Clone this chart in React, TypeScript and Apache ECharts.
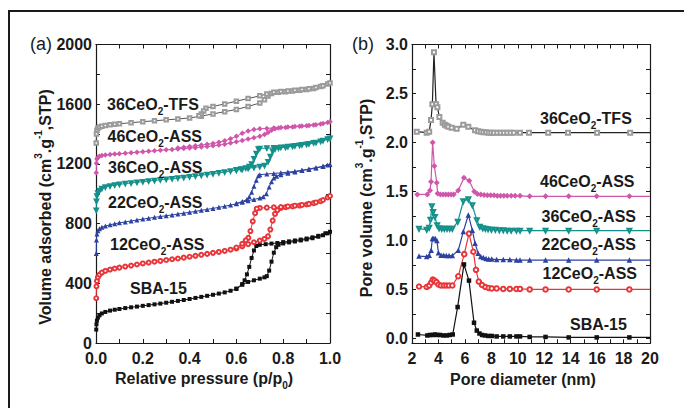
import { useEffect, useRef } from "react";
import * as echarts from "echarts";

type Pt = [number, number];

// ---------- (a) N2 isotherms: adsorption branch, then desorption branch ----------
const sbaAds: Pt[] = [
  [0.001, 90], [0.002, 125], [0.004, 150], [0.008, 170], [0.015, 185], [0.025, 198], [0.04, 208], [0.06, 217],
  [0.08, 223], [0.1, 228], [0.125, 234], [0.15, 239], [0.175, 244], [0.2, 249], [0.225, 254], [0.25, 259],
  [0.275, 264], [0.3, 270], [0.325, 276], [0.35, 282], [0.375, 288], [0.4, 295], [0.425, 302], [0.45, 309],
  [0.475, 316], [0.5, 323], [0.525, 331], [0.55, 339], [0.575, 350], [0.6, 362], [0.625, 390], [0.65, 409],
  [0.675, 420], [0.7, 431], [0.72, 440], [0.73, 448], [0.74, 485], [0.75, 545], [0.76, 605], [0.77, 642],
  [0.78, 658], [0.8, 667], [0.825, 674], [0.85, 680], [0.875, 687], [0.9, 694], [0.925, 702], [0.95, 712],
  [0.97, 722], [0.99, 735],
];
const sbaDes: Pt[] = [
  [1.0, 745], [0.98, 735], [0.95, 718], [0.925, 708], [0.9, 700], [0.875, 693], [0.85, 687], [0.825, 681],
  [0.8, 676], [0.775, 670], [0.75, 666], [0.725, 662], [0.7, 658], [0.685, 650], [0.675, 620], [0.665, 570],
  [0.655, 510], [0.645, 460], [0.635, 420], [0.625, 395], [0.6, 365],
];
const ce12Ads: Pt[] = [
  [0.001, 300], [0.002, 380], [0.004, 415], [0.008, 440], [0.015, 458], [0.025, 472], [0.04, 483], [0.06, 492],
  [0.08, 499], [0.1, 505], [0.125, 512], [0.15, 519], [0.175, 526], [0.2, 533], [0.225, 539], [0.25, 545],
  [0.275, 550], [0.3, 556], [0.325, 561], [0.35, 566], [0.375, 572], [0.4, 578], [0.425, 584], [0.45, 591],
  [0.475, 597], [0.5, 604], [0.525, 610], [0.55, 617], [0.575, 625], [0.6, 634], [0.625, 648], [0.65, 662],
  [0.675, 675], [0.7, 686], [0.72, 697], [0.735, 715], [0.745, 760], [0.755, 820], [0.765, 865], [0.775, 890],
  [0.79, 905], [0.81, 910], [0.84, 915], [0.87, 921], [0.9, 928], [0.93, 937], [0.96, 950], [0.99, 975],
];
const ce12Des: Pt[] = [
  [1.0, 985], [0.97, 958], [0.94, 942], [0.91, 932], [0.88, 925], [0.85, 920], [0.82, 915], [0.79, 911],
  [0.76, 909], [0.73, 907], [0.7, 905], [0.687, 900], [0.68, 870], [0.67, 815], [0.66, 750], [0.651, 705],
  [0.64, 688], [0.625, 665], [0.6, 640],
];
const ce22Ads: Pt[] = [
  [0.001, 600], [0.002, 690], [0.004, 730], [0.008, 752], [0.015, 766], [0.025, 775], [0.04, 784], [0.06, 792],
  [0.08, 799], [0.1, 805], [0.125, 811], [0.15, 818], [0.175, 824], [0.2, 830], [0.225, 836], [0.25, 842],
  [0.275, 847], [0.3, 853], [0.325, 858], [0.35, 864], [0.375, 870], [0.4, 876], [0.425, 882], [0.45, 889],
  [0.475, 895], [0.5, 902], [0.525, 909], [0.55, 916], [0.575, 924], [0.6, 933], [0.625, 943], [0.65, 953],
  [0.675, 962], [0.7, 971], [0.715, 980], [0.728, 1000], [0.74, 1045], [0.75, 1080], [0.76, 1105], [0.772, 1118],
  [0.79, 1128], [0.82, 1138], [0.85, 1146], [0.88, 1155], [0.91, 1163], [0.94, 1172], [0.97, 1182], [0.99, 1192],
];
const ce22Des: Pt[] = [
  [1.0, 1196], [0.97, 1185], [0.94, 1175], [0.91, 1166], [0.88, 1158], [0.85, 1150], [0.82, 1145], [0.79, 1140],
  [0.76, 1136], [0.73, 1132], [0.7, 1128], [0.694, 1120], [0.685, 1090], [0.675, 1050], [0.665, 1010], [0.655, 980],
  [0.645, 962], [0.625, 948], [0.6, 936],
];
const ce36Ads: Pt[] = [
  [0.001, 890], [0.002, 950], [0.004, 985], [0.008, 1005], [0.015, 1022], [0.025, 1035], [0.04, 1045], [0.06, 1052],
  [0.08, 1058], [0.1, 1063], [0.125, 1068], [0.15, 1072], [0.175, 1077], [0.2, 1081], [0.225, 1085], [0.25, 1089],
  [0.275, 1093], [0.3, 1097], [0.325, 1101], [0.35, 1105], [0.375, 1109], [0.4, 1114], [0.425, 1119], [0.45, 1124],
  [0.475, 1129], [0.5, 1134], [0.525, 1140], [0.55, 1146], [0.575, 1152], [0.6, 1158], [0.625, 1164], [0.65, 1170],
  [0.675, 1176], [0.7, 1182], [0.72, 1190], [0.735, 1215], [0.745, 1250], [0.755, 1285], [0.765, 1300], [0.78, 1306],
  [0.81, 1312], [0.84, 1318], [0.87, 1325], [0.9, 1332], [0.93, 1341], [0.96, 1352], [0.99, 1366],
];
const ce36Des: Pt[] = [
  [1.0, 1372], [0.97, 1356], [0.94, 1344], [0.91, 1335], [0.88, 1328], [0.85, 1322], [0.82, 1316], [0.79, 1311],
  [0.76, 1308], [0.73, 1306], [0.7, 1304], [0.694, 1300], [0.685, 1270], [0.675, 1235], [0.665, 1200], [0.655, 1182],
  [0.64, 1172], [0.62, 1166], [0.6, 1160],
];
const ce46Ads: Pt[] = [
  [0.001, 1140], [0.002, 1205], [0.004, 1232], [0.008, 1245], [0.015, 1252], [0.025, 1256], [0.04, 1260], [0.06, 1263],
  [0.08, 1266], [0.1, 1268], [0.125, 1271], [0.15, 1275], [0.175, 1278], [0.2, 1282], [0.225, 1285], [0.25, 1288],
  [0.275, 1291], [0.3, 1294], [0.325, 1297], [0.35, 1300], [0.375, 1303], [0.4, 1306], [0.425, 1309], [0.45, 1313],
  [0.475, 1317], [0.5, 1321], [0.525, 1326], [0.55, 1332], [0.575, 1340], [0.6, 1348], [0.625, 1357], [0.65, 1366],
  [0.675, 1376], [0.7, 1386], [0.72, 1397], [0.735, 1410], [0.75, 1425], [0.765, 1436], [0.78, 1440], [0.81, 1444],
  [0.84, 1448], [0.87, 1452], [0.9, 1456], [0.93, 1461], [0.96, 1468], [0.99, 1478],
];
const ce46Des: Pt[] = [
  [1.0, 1483], [0.97, 1470], [0.94, 1463], [0.91, 1458], [0.88, 1454], [0.85, 1450], [0.82, 1447], [0.79, 1444],
  [0.76, 1441], [0.73, 1438], [0.7, 1435], [0.675, 1430], [0.65, 1420], [0.625, 1405], [0.6, 1385], [0.575, 1368],
  [0.55, 1355], [0.525, 1345], [0.5, 1337], [0.475, 1331], [0.45, 1326], [0.425, 1321], [0.4, 1317], [0.375, 1312],
  [0.35, 1307],
];
const tfsAds: Pt[] = [
  [0.001, 1340], [0.002, 1400], [0.004, 1425], [0.008, 1440], [0.015, 1448], [0.025, 1453], [0.04, 1458], [0.06, 1462],
  [0.08, 1466], [0.1, 1469], [0.15, 1476], [0.2, 1483], [0.25, 1489], [0.3, 1495], [0.35, 1501], [0.4, 1508],
  [0.45, 1520], [0.5, 1535], [0.55, 1550], [0.6, 1565], [0.65, 1585], [0.7, 1608], [0.72, 1630], [0.735, 1655],
  [0.75, 1672], [0.78, 1680], [0.81, 1684], [0.84, 1688], [0.87, 1693], [0.9, 1698], [0.93, 1706], [0.96, 1718],
  [0.99, 1735],
];
const tfsDes: Pt[] = [
  [1.0, 1742], [0.97, 1724], [0.94, 1712], [0.91, 1704], [0.88, 1698], [0.85, 1693], [0.82, 1689], [0.79, 1685],
  [0.76, 1680], [0.73, 1668], [0.7, 1656], [0.65, 1638], [0.6, 1620], [0.55, 1602], [0.5, 1585], [0.47, 1573],
  [0.46, 1555], [0.45, 1535], [0.44, 1522],
];

// ---------- (b) pore size distributions (curves offset vertically) ----------
const sbaPsd: Pt[] = [
  [2.45, 0.04], [3.16, 0.03], [3.36, 0.035], [3.57, 0.035], [3.74, 0.04], [3.91, 0.035], [4.12, 0.035], [4.37, 0.03],
  [4.62, 0.03], [4.85, 0.035], [5.08, 0.04], [5.45, 0.32], [5.93, 0.755], [6.31, 0.59], [6.69, 0.16], [6.9, 0.08],
  [7.1, 0.05], [7.3, 0.035], [7.52, 0.03], [7.77, 0.025], [8.03, 0.025], [8.4, 0.02], [8.9, 0.02], [9.4, 0.02],
  [9.9, 0.02], [10.17, 0.02], [10.9, 0.015], [12.1, 0.015], [13.85, 0.01], [15.97, 0.01], [18.44, 0.01], [20, 0.01],
];
const ce12Psd: Pt[] = [
  [2.53, 0.53], [3.11, 0.525], [3.3, 0.54], [3.45, 0.57], [3.57, 0.6], [3.7, 0.59], [3.85, 0.575], [4.0, 0.55],
  [4.18, 0.54], [4.4, 0.54], [4.6, 0.54], [4.8, 0.54], [5.05, 0.54], [5.5, 0.635], [5.95, 0.86], [6.31, 1.07],
  [6.64, 0.885], [6.84, 0.7], [7.05, 0.58], [7.3, 0.545], [7.55, 0.525], [7.8, 0.515], [8.03, 0.51], [8.4, 0.51],
  [8.9, 0.505], [9.4, 0.505], [9.9, 0.505], [10.17, 0.505], [10.9, 0.5], [12.1, 0.5], [13.85, 0.5], [15.97, 0.5],
  [18.44, 0.5], [20, 0.5],
];
const ce22Psd: Pt[] = [
  [2.53, 0.84], [3.11, 0.835], [3.3, 0.85], [3.45, 0.9], [3.54, 1.02], [3.65, 1.02], [3.76, 1.02], [3.88, 1.0],
  [4.0, 0.875], [4.2, 0.85], [4.4, 0.85], [4.6, 0.845], [4.8, 0.845], [5.05, 0.845], [5.5, 0.9], [5.88, 1.09],
  [6.26, 1.26], [6.56, 1.105], [6.77, 0.97], [7.0, 0.87], [7.2, 0.835], [7.4, 0.825], [7.6, 0.815], [7.8, 0.81],
  [8.03, 0.81], [8.4, 0.805], [8.9, 0.805], [9.4, 0.805], [9.9, 0.8], [10.17, 0.8], [10.9, 0.8], [12.1, 0.8],
  [13.85, 0.8], [15.97, 0.8], [18.44, 0.8], [20, 0.8],
];
const ce36Psd: Pt[] = [
  [2.53, 1.12], [3.11, 1.11], [3.3, 1.13], [3.4, 1.21], [3.5, 1.35], [3.6, 1.29], [3.73, 1.24], [3.9, 1.156],
  [4.05, 1.125], [4.25, 1.12], [4.45, 1.12], [4.65, 1.12], [4.85, 1.12], [5.05, 1.12], [5.46, 1.19], [5.88, 1.4],
  [6.26, 1.42], [6.56, 1.36], [6.9, 1.207], [7.13, 1.14], [7.35, 1.125], [7.55, 1.12], [7.75, 1.115], [8.0, 1.11],
  [8.3, 1.11], [8.6, 1.105], [8.9, 1.105], [9.2, 1.1], [9.5, 1.1], [9.9, 1.1], [10.17, 1.1], [10.9, 1.1],
  [12.1, 1.1], [13.85, 1.1], [15.97, 1.1], [18.44, 1.1], [20, 1.1],
];
const ce46Psd: Pt[] = [
  [2.4, 1.47], [3.16, 1.47], [3.36, 1.51], [3.44, 1.6], [3.56, 2.0], [3.69, 1.76], [3.87, 1.59], [3.94, 1.48],
  [4.15, 1.47], [4.35, 1.47], [4.55, 1.47], [4.75, 1.47], [4.95, 1.47], [5.15, 1.47], [5.5, 1.51], [5.93, 1.64],
  [6.33, 1.61], [6.71, 1.5], [6.95, 1.475], [7.2, 1.47], [7.45, 1.465], [7.7, 1.46], [7.95, 1.46], [8.2, 1.46],
  [8.45, 1.455], [8.7, 1.455], [8.95, 1.455], [9.2, 1.455], [9.5, 1.455], [9.8, 1.455], [10.17, 1.455], [10.9, 1.45],
  [12.1, 1.45], [13.85, 1.45], [15.97, 1.45], [18.44, 1.45], [20, 1.45],
];
const tfsPsd: Pt[] = [
  [2.36, 2.11], [3.11, 2.1], [3.3, 2.11], [3.44, 2.23], [3.54, 2.39], [3.66, 2.92], [3.82, 2.39], [3.92, 2.36],
  [4.07, 2.26], [4.32, 2.2], [4.48, 2.18], [4.62, 2.17], [4.75, 2.16], [5.0, 2.15], [5.38, 2.14], [5.88, 2.18],
  [6.26, 2.16], [6.77, 2.125], [7.0, 2.115], [7.2, 2.11], [7.4, 2.105], [7.6, 2.105], [7.8, 2.1], [8.0, 2.1],
  [8.2, 2.1], [8.45, 2.1], [8.7, 2.1], [8.95, 2.1], [9.2, 2.1], [9.45, 2.1], [9.7, 2.1], [10.17, 2.1],
  [10.85, 2.1], [12.3, 2.1], [13.8, 2.1], [16.0, 2.1], [18.5, 2.1], [20, 2.1],
];

// ---------- axes ----------
const pressureTicks = [0, 0.2, 0.4, 0.6, 0.8, 1.0];
const adsorbedTicks = [0, 400, 800, 1200, 1600, 2000];
const diameterTicks = [2, 4, 6, 8, 10, 12, 14, 16, 18, 20];
const poreVolumeLabels = [0, 0.5, 1.0, 1.5, 2.0, 2.5, 3.0];
const poreVolumeTicks = [0, 0.25, 0.5, 0.75, 1.0, 1.25, 1.5, 1.75, 2.0, 2.25, 2.5, 2.75, 3.0];

const FONT = "'Liberation Sans', Arial, Helvetica, sans-serif";
const INK = "#1a1a1a";

const C_SBA = "#111111";
const C_12 = "#e8353a";
const C_22 = "#2d42a0";
const C_36 = "#13908a";
const C_46 = "#cf56aa";
const C_TFS_MARK = "#9b9b9b";
const C_TFS_LINE = "#555555";

const tailless = (pts: Pt[]) =>
  pts.map((p, i) => (i === pts.length - 1 && p[0] >= 20 ? { value: p, symbol: "none" } : p));

const axisLine = { show: true, onZero: false, lineStyle: { color: INK, width: 1.2 } };
const axisTick = { show: true, inside: true, length: 4, lineStyle: { color: INK, width: 1 } };
const minorTick = { show: true, splitNumber: 2, length: 4, lineStyle: { color: INK, width: 1 } };
const tickLabel = { fontFamily: FONT, fontWeight: "bold" as const, fontSize: 16, color: INK };

function richText(text: string, size: number, weight: string) {
  return {
    text,
    fontFamily: FONT,
    fontWeight: weight,
    fontSize: size,
    fill: INK,
    rich: {
      m: { fontFamily: FONT, fontWeight: weight, fontSize: size, fill: INK, lineHeight: 24 },
      s: { fontFamily: FONT, fontWeight: weight, fontSize: Math.round(size * 0.65), fill: INK, lineHeight: 9, verticalAlign: "bottom" },
      u: { fontFamily: FONT, fontWeight: weight, fontSize: Math.round(size * 0.65), fill: INK, lineHeight: 9, verticalAlign: "top" },
    },
  };
}

function label(x: number, y: number, text: string, rotation = 0, align = "left", size = 16, weight = "bold") {
  return {
    type: "text",
    x,
    y,
    rotation,
    z: 50,
    style: { ...richText(text, size, weight), align, verticalAlign: "middle" },
  };
}

function lineSeries(name: string, data: any[], xi: number, color: string, symbol: string, size: number, extra: any = {}) {
  return {
    name,
    type: "line",
    xAxisIndex: xi,
    yAxisIndex: xi,
    data,
    symbol,
    symbolSize: size,
    showSymbol: true,
    lineStyle: { color: extra.lineColor || color, width: extra.lineWidth || 1 },
    itemStyle: { color, borderWidth: extra.border || 1 },
    symbolRotate: extra.rotate || 0,
    emphasis: { disabled: true },
    z: extra.z || 3,
  };
}

export default function App() {
  const ref = useRef<HTMLDivElement>(null);

  useEffect(() => {
    if (!ref.current) return;
    const chart = echarts.init(ref.current, undefined, { renderer: "svg", width: 684, height: 408 });

    const leftGrid = { left: 96, top: 44.5, width: 234, height: 298.5 };
    const rightGrid = { left: 412, top: 44.5, width: 238, height: 298.8 };

    const option: any = {
      animation: false,
      backgroundColor: "#ffffff",
      grid: [
        { ...leftGrid, containLabel: false },
        { ...rightGrid, containLabel: false },
      ],
      xAxis: [
        {
          gridIndex: 0, type: "value", position: "bottom",
          min: pressureTicks[0], max: pressureTicks[pressureTicks.length - 1], interval: 0.2,
          axisLine, axisTick, minorTick, splitLine: { show: false },
          axisLabel: { ...tickLabel, margin: 7, formatter: (v: number) => v.toFixed(1) },
        },
        {
          gridIndex: 0, type: "value", position: "top",
          min: pressureTicks[0], max: pressureTicks[pressureTicks.length - 1], interval: 0.2,
          axisLine, axisTick, minorTick, splitLine: { show: false }, axisLabel: { show: false },
        },
        {
          gridIndex: 1, type: "value", position: "bottom",
          min: diameterTicks[0], max: diameterTicks[diameterTicks.length - 1], interval: 2,
          axisLine, axisTick, minorTick, splitLine: { show: false },
          axisLabel: { ...tickLabel, margin: 7, formatter: (v: number) => String(v) },
        },
        {
          gridIndex: 1, type: "value", position: "top",
          min: diameterTicks[0], max: diameterTicks[diameterTicks.length - 1], interval: 2,
          axisLine, axisTick, minorTick, splitLine: { show: false }, axisLabel: { show: false },
        },
      ],
      yAxis: [
        {
          gridIndex: 0, type: "value", position: "left",
          min: adsorbedTicks[0], max: adsorbedTicks[adsorbedTicks.length - 1], interval: 400,
          axisLine, axisTick, minorTick, splitLine: { show: false },
          axisLabel: { ...tickLabel, margin: 4, formatter: (v: number) => String(v) },
        },
        {
          gridIndex: 0, type: "value", position: "right",
          min: adsorbedTicks[0], max: adsorbedTicks[adsorbedTicks.length - 1], interval: 400,
          axisLine, axisTick, minorTick, splitLine: { show: false }, axisLabel: { show: false },
        },
        {
          gridIndex: 1, type: "value", position: "left",
          min: -0.05, max: poreVolumeLabels[poreVolumeLabels.length - 1],
          axisLine,
          axisTick: { ...axisTick, customValues: poreVolumeTicks },
          minorTick: { show: false }, splitLine: { show: false },
          axisLabel: { ...tickLabel, margin: 4, customValues: poreVolumeLabels, formatter: (v: number) => (v < 0 ? "" : v.toFixed(1)) },
        },
        {
          gridIndex: 1, type: "value", position: "right",
          min: -0.05, max: poreVolumeLabels[poreVolumeLabels.length - 1],
          axisLine,
          axisTick: { ...axisTick, customValues: poreVolumeTicks },
          minorTick: { show: false }, splitLine: { show: false }, axisLabel: { show: false },
        },
      ],
      series: [
        // isotherms
        lineSeries("SBA-15", [...sbaAds, ...sbaDes], 0, C_SBA, "rect", 4),
        lineSeries("12CeO2-ASS", [...ce12Ads, ...ce12Des], 0, C_12, "emptyCircle", 4),
        lineSeries("22CeO2-ASS", [...ce22Ads, ...ce22Des], 0, C_22, "triangle", 5),
        lineSeries("36CeO2-ASS", [...ce36Ads, ...ce36Des], 0, C_36, "emptyTriangle", 3.5, { rotate: 180, border: 0.8 }),
        lineSeries("46CeO2-ASS", [...ce46Ads, ...ce46Des], 0, C_46, "diamond", 5.5),
        lineSeries("36CeO2-TFS", [...tfsAds, ...tfsDes], 0, C_TFS_MARK, "emptyRect", 3.5, { lineColor: C_TFS_LINE, border: 0.8 }),
        // pore size distributions
        lineSeries("SBA-15 PSD", tailless(sbaPsd), 2, C_SBA, "rect", 4.5, { lineWidth: 1.2 }),
        lineSeries("12CeO2-ASS PSD", tailless(ce12Psd), 2, C_12, "emptyCircle", 4.5, { lineWidth: 1.2 }),
        lineSeries("22CeO2-ASS PSD", tailless(ce22Psd), 2, C_22, "triangle", 5.5, { lineWidth: 1.2 }),
        lineSeries("36CeO2-ASS PSD", tailless(ce36Psd), 2, C_36, "emptyTriangle", 4, { lineWidth: 1.2, rotate: 180, border: 0.8 }),
        lineSeries("46CeO2-ASS PSD", tailless(ce46Psd), 2, C_46, "diamond", 6, { lineWidth: 1.2 }),
        lineSeries("36CeO2-TFS PSD", tailless(tfsPsd), 2, C_TFS_MARK, "emptyRect", 4, { lineColor: "#222222", lineWidth: 1.2, border: 0.8 }),
      ],
      graphic: [
        // figure frame
        {
          type: "rect", z: 1,
          shape: { x: 9, y: 11, width: 700, height: 420 },
          style: { fill: "none", stroke: INK, lineWidth: 2 },
        },
        label(30, 44, "{m|(a)}", 0, "left", 18, "normal"),
        label(352, 44, "{m|(b)}", 0, "left", 18, "normal"),
        // axis titles
        label(204, 378, "{m|Relative pressure (p/p}{s|0}{m|)}", 0, "center", 16),
        label(523, 379, "{m|Pore diameter (nm)}", 0, "center", 16),
        label(45, 207, "{m|Volume adsorbed (cm}{u|3}{m|.g}{u|-1}{m|,STP)}", Math.PI / 2, "center", 16),
        label(366, 198, "{m|Pore volume (cm}{u|3}{m|.g}{u|-1}{m|,STP)}", Math.PI / 2, "center", 16),
        // sample names, panel (a)
        label(107, 104, "{m|36CeO}{s|2}{m|-TFS}"),
        label(107.5, 136, "{m|46CeO}{s|2}{m|-ASS}"),
        label(108, 167, "{m|36CeO}{s|2}{m|-ASS}"),
        label(108, 202, "{m|22CeO}{s|2}{m|-ASS}"),
        label(110, 244, "{m|12CeO}{s|2}{m|-ASS}"),
        label(130, 288, "{m|SBA-15}"),
        // sample names, panel (b)
        label(540, 118, "{m|36CeO}{s|2}{m|-TFS}"),
        label(540, 181, "{m|46CeO}{s|2}{m|-ASS}"),
        label(541.5, 216, "{m|36CeO}{s|2}{m|-ASS}"),
        label(541.5, 244, "{m|22CeO}{s|2}{m|-ASS}"),
        label(542.5, 273, "{m|12CeO}{s|2}{m|-ASS}"),
        label(570, 324, "{m|SBA-15}"),
      ],
    };

    chart.setOption(option);
    return () => chart.dispose();
  }, []);

  return (
    <div
      ref={ref}
      style={{ position: "absolute", left: 0, top: 0, width: 684, height: 408, background: "#ffffff" }}
    />
  );
}
